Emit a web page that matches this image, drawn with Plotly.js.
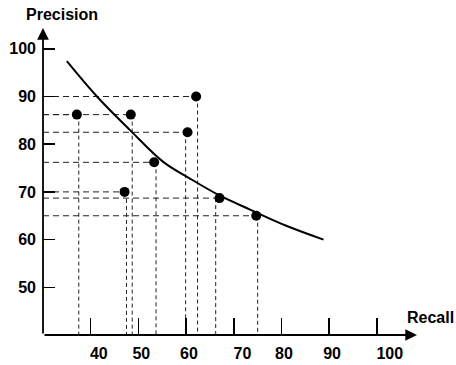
<!DOCTYPE html>
<html>
<head>
<meta charset="utf-8">
<script src="https://cdn.plot.ly/plotly-3.0.1.min.js"></script>
<style>
  html, body { margin: 0; padding: 0; background: #fff; }
  #chart { width: 456px; height: 365px; }
</style>
</head>
<body>
<div id="chart"></div>
<script>
// ---- data ----
const pointRecall    = [37.1, 48.4, 62.1, 60.3, 53.3, 47.1, 67.0, 74.7];
const pointPrecision = [86.2, 86.2, 90.0, 82.5, 76.2, 70.0, 68.7, 65.0];
// the dashed drop lines are drawn slightly off the dots in the original
const dropRecall     = [37.5, 48.7, 62.4, 59.9, 53.7, 47.5, 66.2, 75.0];

const curveRecall    = [35.0, 41.3, 48.3, 55.2, 60.8, 67.1, 73.4, 81.0, 88.8];
const curvePrecision = [97.4, 90.0, 82.9, 76.3, 72.8, 69.2, 66.3, 62.9, 60.0];

const xTickVals   = [40, 50, 60, 70, 80, 90, 100];
const xLabelVals  = [41.7, 50.6, 60.6, 71.8, 80.5, 90.6, 102.7];
const xLabelText  = ['40', '50', '60', '70', '80', '90', '100'];
const yTickVals   = [50, 60, 70, 80, 90, 100];
const yTickText   = ['50', '60', '70', '80', '90', '100'];

const xMin = 30, xMax = 108.4, yMin = 40, yMax = 104.36;

// ---- build guide lines ----
const hx = [], hy = [], vx = [], vy = [];
pointRecall.forEach((r, i) => {
  hx.push(xMin, r, null); hy.push(pointPrecision[i], pointPrecision[i], null);
  vx.push(dropRecall[i], dropRecall[i], null); vy.push(pointPrecision[i], yMin, null);
});

const bold = t => '<b>' + t + '</b>';
const font = {family: 'Liberation Sans, Arial, sans-serif', size: 16, color: '#000'};

const traces = [
  {x: hx, y: hy, mode: 'lines', line: {color: '#222', width: 1, dash: '6px,4px'}, hoverinfo: 'skip', showlegend: false, cliponaxis: false},
  {x: vx, y: vy, mode: 'lines', line: {color: '#222', width: 1, dash: '4px,3px'}, hoverinfo: 'skip', showlegend: false, cliponaxis: false},
  {x: curveRecall, y: curvePrecision, mode: 'lines', line: {color: '#000', width: 2, shape: 'spline', smoothing: 1}, showlegend: false},
  {x: pointRecall, y: pointPrecision, mode: 'markers', marker: {color: '#000', size: 10}, showlegend: false},
  {x: [xMin], y: [yMin], xaxis: 'x2', mode: 'markers', marker: {opacity: 0}, showlegend: false, hoverinfo: 'skip'}
];

const layout = {
  width: 456, height: 365,
  margin: {l: 43, r: 39, t: 28, b: 30},
  paper_bgcolor: '#fff', plot_bgcolor: '#fff',
  showlegend: false,
  xaxis: {
    range: [xMin, xMax], showgrid: false, zeroline: false, showline: false,
    tickvals: xTickVals, ticks: 'inside', ticklen: 17, tickwidth: 1.5, tickcolor: '#000',
    showticklabels: false
  },
  xaxis2: {
    overlaying: 'x', anchor: 'y', side: 'bottom',
    range: [xMin, xMax], showgrid: false, zeroline: false, showline: false,
    tickvals: xLabelVals, ticktext: xLabelText.map(bold), ticks: '', tickfont: font,
    ticklabelstandoff: 7
  },
  yaxis: {
    range: [yMin, yMax], showgrid: false, zeroline: false, showline: false,
    tickvals: yTickVals, ticktext: yTickText.map(bold), ticks: 'inside', ticklen: 12, tickwidth: 1.5, tickcolor: '#000',
    tickfont: font, ticklabelstandoff: 6
  },
  annotations: [
    {x: xMin, y: yMax, ax: xMin, ay: yMin, xref: 'x', yref: 'y', axref: 'x', ayref: 'y',
     showarrow: true, arrowhead: 2, arrowsize: 1.3, arrowwidth: 1.8, arrowcolor: '#000', text: ''},
    {x: xMax, y: yMin, ax: xMin, ay: yMin, xref: 'x', yref: 'y', axref: 'x', ayref: 'y',
     showarrow: true, arrowhead: 2, arrowsize: 1.3, arrowwidth: 1.8, arrowcolor: '#000', text: ''},
    {x: 0.0508, y: 1.0456, xref: 'paper', yref: 'paper', xanchor: 'center', yanchor: 'middle',
     text: bold('Precision'), showarrow: false, font: font},
    {x: 1.0374, y: 0.0586, xref: 'paper', yref: 'paper', xanchor: 'center', yanchor: 'middle',
     text: bold('Recall'), showarrow: false, font: font}
  ]
};

Plotly.newPlot('chart', traces, layout, {displayModeBar: false, staticPlot: true});
</script>
</body>
</html>
